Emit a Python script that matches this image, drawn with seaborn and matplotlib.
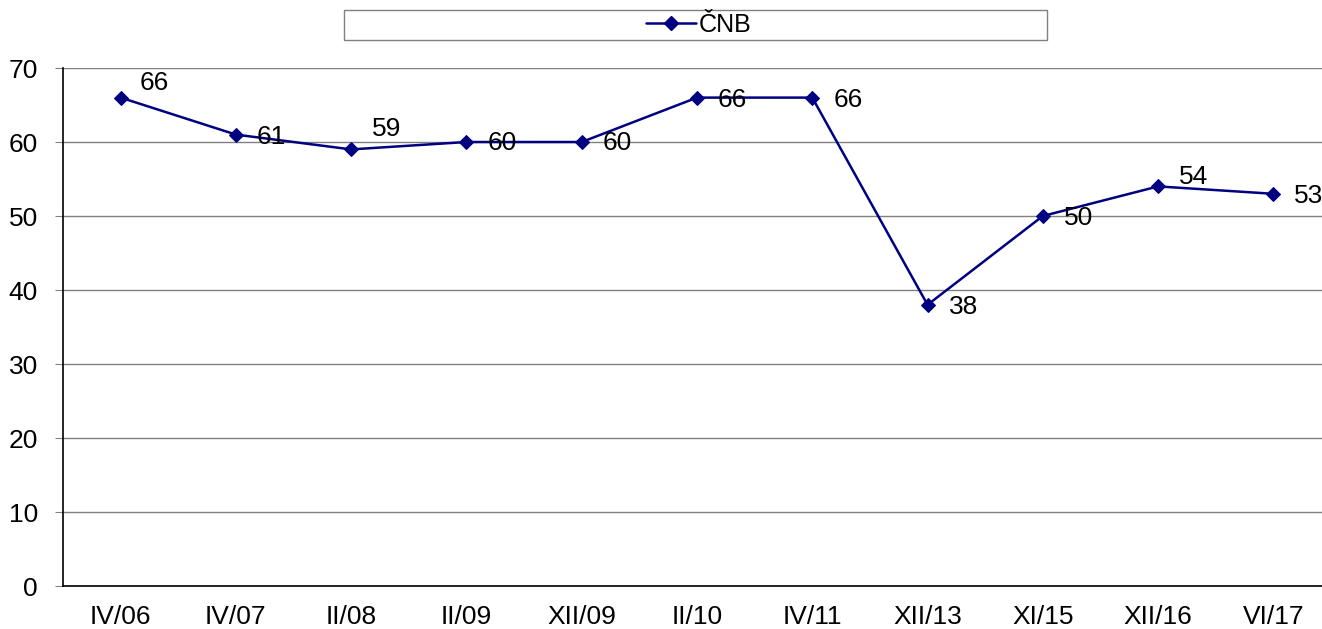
import matplotlib
matplotlib.use("Agg")
import matplotlib.pyplot as plt
import seaborn as sns
import pandas as pd
from matplotlib.patches import Rectangle
from matplotlib.lines import Line2D

categories = ["IV/06", "IV/07", "II/08", "II/09", "XII/09", "II/10", "IV/11",
              "XII/13", "XI/15", "XII/16", "VI/17"]
values = [66, 61, 59, 60, 60, 66, 66, 38, 50, 54, 53]
series_name = "ČNB"
y_ticks = [0, 10, 20, 30, 40, 50, 60, 70]

# label offsets (pixels) relative to each point
label_offsets = [(19, 15), (21, -2), (21, 20), (21, -1), (21, -1), (21, -2),
                 (21, -2), (21, -2), (21, -2), (21, 9), (21, -2)]

sns.set_style("white")
plt.rcParams["font.family"] = ["Liberation Sans", "DejaVu Sans"]
plt.rcParams["text.color"] = "black"
plt.rcParams["xtick.color"] = "black"
plt.rcParams["ytick.color"] = "black"

fig = plt.figure(figsize=(13.22, 6.29), dpi=100)
ax = fig.add_axes([63 / 1322, 1 - 586 / 629, (1331 - 63) / 1322, (586 - 68) / 629])

df = pd.DataFrame({"x": range(len(categories)), "y": values})
navy = "#000080"
sns.lineplot(data=df, x="x", y="y", ax=ax, color=navy, linewidth=1.8,
             marker="D", markersize=7, markeredgecolor=navy, sort=False)

for i, (v, (dx, dy)) in enumerate(zip(values, label_offsets)):
    ax.annotate(str(v), (i, v), xytext=(dx, dy), textcoords="offset pixels",
                ha="left", va="center", fontsize=19, color="black")

ax.set_xlim(-0.5, len(categories) - 0.5)
ax.set_ylim(0, 70)
ax.set_yticks(y_ticks)
ax.set_yticklabels([str(t) for t in y_ticks], fontsize=19, color="black")
ax.set_xticks(range(len(categories)))
ax.set_xticklabels(categories, fontsize=19, color="black")
ax.set_xticks([i - 0.5 for i in range(len(categories) + 1)], minor=True)
ax.tick_params(axis="x", which="major", length=0, pad=14)
ax.tick_params(axis="x", which="minor", length=6, color="#808080", direction="out")
ax.tick_params(axis="y", which="major", length=6, color="#808080", direction="out", pad=12, left=True)
ax.set_xlabel("")
ax.set_ylabel("")

ax.yaxis.grid(True, color="#808080", linewidth=1)
ax.xaxis.grid(False)
ax.set_axisbelow(True)
for s in ["top", "right"]:
    ax.spines[s].set_visible(False)
for s in ["left", "bottom"]:
    ax.spines[s].set_color("black")
    ax.spines[s].set_linewidth(1.2)

# legend box
fig.patches.append(Rectangle((344 / 1322, 1 - 40 / 629), (1047 - 344) / 1322, 30 / 629,
                             transform=fig.transFigure, facecolor="white",
                             edgecolor="#808080", linewidth=1))
handle = Line2D([], [], color=navy, linewidth=1.8, marker="D", markersize=7)
leg = fig.legend([handle], [series_name], loc="center", bbox_to_anchor=(699 / 1322, 1 - 25 / 629),
                 frameon=False, fontsize=18, handlelength=2.0, handletextpad=0.1,
                 borderpad=0, borderaxespad=0)
for t in leg.get_texts():
    t.set_color("black")

fig.savefig("out.png", dpi=100)
